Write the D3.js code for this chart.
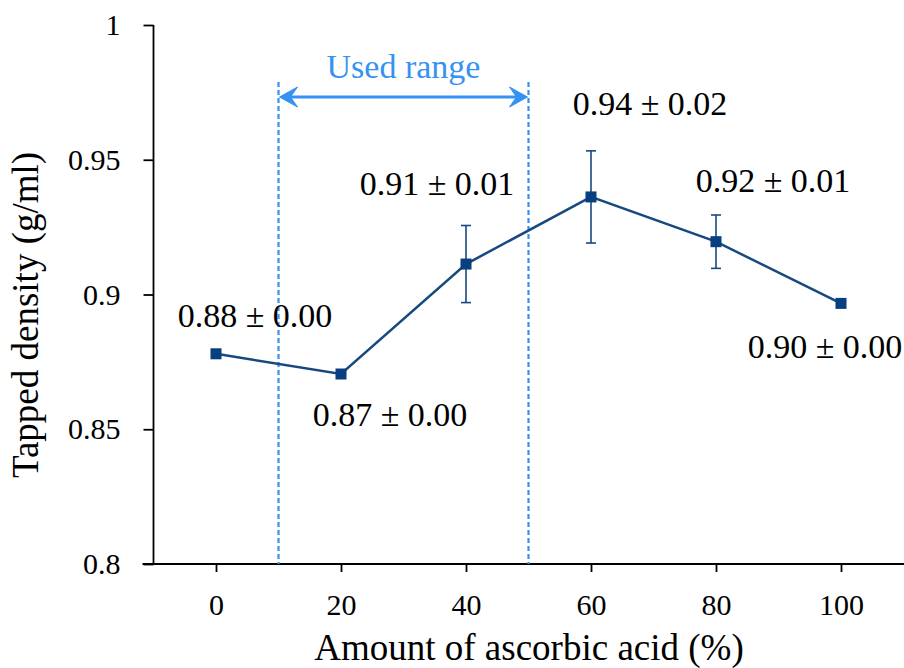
<!DOCTYPE html>
<html><head><meta charset="utf-8">
<script src="https://cdn.jsdelivr.net/npm/d3@7"></script>
<style>body{margin:0;background:#fff}svg{display:block}</style>
</head><body>
<svg id="c" width="904" height="668"></svg>
<script>
const amounts = [0, 20, 40, 60, 80, 100];
const density = [0.878, 0.8705, 0.9113, 0.9362, 0.9196, 0.8967];
const errors = [0, 0, 0.0143, 0.0171, 0.0099, 0];
const labels = ["0.88 ± 0.00", "0.87 ± 0.00", "0.91 ± 0.01", "0.94 ± 0.02", "0.92 ± 0.01", "0.90 ± 0.00"];
const labelOffsets = [[39, -27], [49, 52], [-29, -69], [59, -82], [57, -50], [-16, 55]];
const yTicks = [0.8, 0.85, 0.9, 0.95, 1];
const usedRange = [10, 50];
const usedLabel = "Used range";
const xTitle = "Amount of ascorbic acid (%)";
const yTitle = "Tapped density (g/ml)";

const svg = d3.select("#c");
const font = "Liberation Serif";
const x = d3.scaleLinear().domain([0, 100]).range([216, 841]);
const y = d3.scaleLinear().domain([0.8, 1]).range([564, 25]);
const lineColor = "#17497f", markColor = "#073f80", blue = "#3592f2";
const x0 = x(-10);

// y axis
const ya = svg.append("g").attr("transform", `translate(${x0},0)`)
  .call(d3.axisLeft(y).tickValues(yTicks).tickSize(10).tickPadding(23).tickFormat(d => String(+d.toFixed(2))));
ya.select(".domain").remove();
ya.append("line").attr("y1", y(1)).attr("y2", y(0.8)).attr("stroke", "#000").attr("stroke-width", 1.8);
ya.selectAll(".tick line").attr("stroke", "#000").attr("stroke-width", 1.8);
ya.selectAll(".tick text").attr("font-family", font).attr("font-size", 30).attr("fill", "#000");

// x axis
const xa = svg.append("g").attr("transform", `translate(0,${y(0.8)})`)
  .call(d3.axisBottom(x).tickValues(amounts).tickSize(8).tickPadding(22));
xa.select(".domain").remove();
xa.append("line").attr("x1", x0 - 11).attr("x2", 904).attr("stroke", "#000").attr("stroke-width", 1.8);
xa.selectAll(".tick line").attr("stroke", "#000").attr("stroke-width", 1.8);
xa.selectAll(".tick text").attr("font-family", font).attr("font-size", 30).attr("fill", "#000");

// titles
svg.append("text").attr("x", 529).attr("y", 660).attr("text-anchor", "middle")
  .attr("font-family", font).attr("font-size", 37).attr("fill", "#000").text(xTitle);
svg.append("text").attr("transform", `translate(38,315) rotate(-90)`).attr("text-anchor", "middle")
  .attr("font-family", font).attr("font-size", 37).attr("fill", "#000").text(yTitle);

// used range
usedRange.forEach(v => {
  svg.append("line").attr("x1", x(v)).attr("x2", x(v)).attr("y1", 82).attr("y2", y(0.8))
    .attr("stroke", blue).attr("stroke-width", 2.2).attr("stroke-dasharray", "5,3");
});
const ay = 97;
const a0 = x(usedRange[0]) + 1, a1 = x(usedRange[1]) - 1;
svg.append("line").attr("x1", a0 + 6).attr("x2", a1 - 6).attr("y1", ay).attr("y2", ay)
  .attr("stroke", blue).attr("stroke-width", 3);
svg.append("path").attr("d", `M${a0},${ay} L${a0 + 18},${ay - 10} L${a0 + 11},${ay} L${a0 + 18},${ay + 10} Z`)
  .attr("fill", blue).attr("stroke", blue).attr("stroke-width", 1).attr("stroke-linejoin", "round");
svg.append("path").attr("d", `M${a1},${ay} L${a1 - 18},${ay - 10} L${a1 - 11},${ay} L${a1 - 18},${ay + 10} Z`)
  .attr("fill", blue).attr("stroke", blue).attr("stroke-width", 1).attr("stroke-linejoin", "round");
svg.append("text").attr("x", (x(usedRange[0]) + x(usedRange[1])) / 2).attr("y", 78).attr("text-anchor", "middle")
  .attr("font-family", font).attr("font-size", 34).attr("fill", blue).text(usedLabel);

// line
const data = amounts.map((a, i) => ({a, v: density[i], e: errors[i], l: labels[i], o: labelOffsets[i]}));
svg.append("path").datum(data).attr("fill", "none").attr("stroke", lineColor).attr("stroke-width", 2.5)
  .attr("d", d3.line().x(d => x(d.a)).y(d => y(d.v)));

// error bars
const eb = svg.append("g").selectAll("g").data(data.filter(d => d.e > 0)).join("g");
eb.append("line").attr("x1", d => x(d.a)).attr("x2", d => x(d.a)).attr("y1", d => y(d.v - d.e)).attr("y2", d => y(d.v + d.e))
  .attr("stroke", lineColor).attr("stroke-width", 1.6);
[-1, 1].forEach(s => {
  eb.append("line").attr("x1", d => x(d.a) - 5).attr("x2", d => x(d.a) + 5)
    .attr("y1", d => y(d.v + s * d.e)).attr("y2", d => y(d.v + s * d.e))
    .attr("stroke", lineColor).attr("stroke-width", 1.6);
});

// markers
svg.append("g").selectAll("rect").data(data).join("rect")
  .attr("x", d => x(d.a) - 5.5).attr("y", d => y(d.v) - 5.5).attr("width", 11).attr("height", 11).attr("fill", markColor);

// value labels
svg.append("g").selectAll("text").data(data).join("text")
  .attr("x", d => x(d.a) + d.o[0]).attr("y", d => y(d.v) + d.o[1]).attr("text-anchor", "middle")
  .attr("font-family", font).attr("font-size", 34).attr("fill", "#000").text(d => d.l);
</script>
</body></html>
